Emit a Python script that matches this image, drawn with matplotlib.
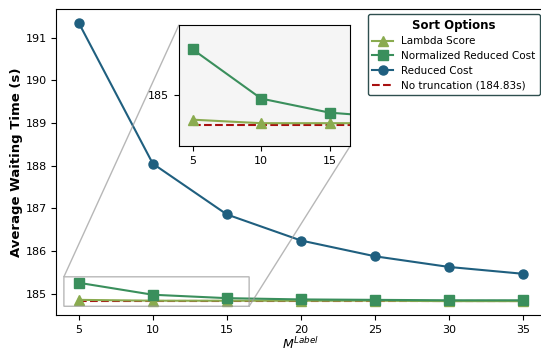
import numpy as np
import matplotlib
matplotlib.use("Agg")
import matplotlib.pyplot as plt

m_label = [5, 10, 15, 20, 25, 30, 35]
lambda_score = [184.86, 184.84, 184.84, 184.84, 184.84, 184.83, 184.83]
normalized_rc = [185.26, 184.98, 184.90, 184.87, 184.86, 184.85, 184.85]
reduced_cost = [191.35, 188.05, 186.86, 186.25, 185.88, 185.63, 185.47]
no_trunc = 184.83

c_lambda = "#8aab4f"
c_norm = "#3a8f5c"
c_rc = "#1f5f7f"
c_base = "#a81010"

fig = plt.figure(figsize=(5.41, 3.54), dpi=100)
# axes run slightly past the right edge, as in the cropped original
ax = fig.add_axes([0.1044, 0.11, 0.904, 0.865])


def draw(a):
    a.plot(m_label, lambda_score, color=c_lambda, marker="^", markersize=7,
           linewidth=1.5, label="Lambda Score")
    a.plot(m_label, normalized_rc, color=c_norm, marker="s", markersize=6.5,
           linewidth=1.5, label="Normalized Reduced Cost")
    a.plot(m_label, reduced_cost, color=c_rc, marker="o", markersize=6.5,
           linewidth=1.5, label="Reduced Cost")
    a.plot([m_label[0], m_label[-1]], [no_trunc, no_trunc], color=c_base,
           linestyle="--", linewidth=1.5, zorder=1.5,
           label="No truncation (%.2fs)" % no_trunc)


draw(ax)
ax.set_xlim(3.5, 36.5)
ax.set_xticks(m_label)
ax.tick_params(labelsize=8)
ax.set_xlabel(r"$M^{Label}$", fontsize=9, labelpad=1)
ax.set_ylabel("Average Waiting Time (s)", fontsize=9.5, fontweight="bold",
              labelpad=1.5)

leg = ax.legend(title="Sort Options", loc="upper right", fontsize=7.5,
                title_fontproperties={"weight": "bold", "size": 8.5},
                frameon=True, fancybox=True, borderpad=0.45,
                handlelength=2.0, labelspacing=0.45,
                bbox_to_anchor=(1.0, 1.0))
leg.get_frame().set_edgecolor("#2f4f4f")
leg.get_frame().set_alpha(1.0)

axins = ax.inset_axes([0.2505, 0.552, 0.350, 0.396])
draw(axins)
axins.set_xlim(4.0, 16.5)
axins.set_ylim(184.71, 185.40)
axins.set_xticks([5, 10, 15])
axins.set_yticks([185])
axins.tick_params(labelsize=8)
axins.set_facecolor("#f5f5f5")
ax.indicate_inset_zoom(axins, edgecolor="#999999", alpha=0.7)

fig.savefig("out.png", dpi=100)
